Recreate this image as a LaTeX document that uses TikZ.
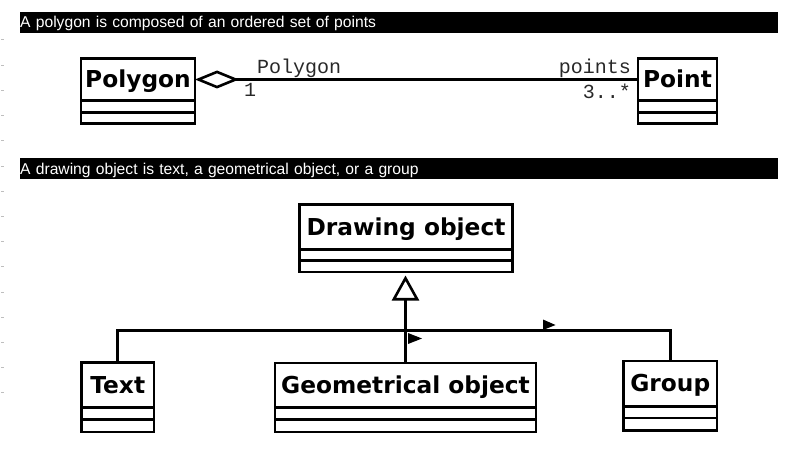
\documentclass[tikz,border=0pt]{standalone}
\usepackage{fontspec}
\setmainfont{Liberation Sans}
\newfontfamily\umlfont{DejaVu Sans}
\newfontfamily\lblfont{Liberation Mono}
\usetikzlibrary{arrows.meta}
\definecolor{lblgray}{RGB}{40,40,40}
\definecolor{tickgray}{RGB}{190,190,190}
\tikzset{
  umlline/.style={line width=2.6pt, draw=black},
  clsname/.style={draw=black, line width=2.6pt, fill=white, outer sep=0pt, inner sep=0pt,
    anchor=north west, font=\umlfont\bfseries\fontsize{23.3}{28}\selectfont,
    text height=16pt, text depth=0pt},
  clscomp/.style={draw=black, line width=2.6pt, fill=white, outer sep=0pt, inner sep=0pt,
    anchor=north, minimum height=#1},
  capbar/.style={fill=black, text=white, anchor=north west, inner sep=0pt,
    minimum height=21pt, text width=758pt, align=left,
    font=\fontsize{15.65}{19}\selectfont, text height=14pt, text depth=3.4pt},
  rolelbl/.style={font=\lblfont\fontsize{20}{24}\selectfont, text=lblgray, inner sep=0pt},
  marktick/.style={draw=tickgray, line width=1pt},
}
\begin{document}
\begin{tikzpicture}[x=1pt,y=-1pt]
\useasboundingbox (0,0) rectangle (788,452);
% faint margin ticks
\foreach \i in {0,...,14}
  \draw[marktick] (1,{40+25.2*\i}) -- (4,{40+25.2*\i});

% captions
\node[capbar] (cap1) at (20,11.5) {A polygon is composed of an ordered set of points};
\node[capbar] (cap2) at (20,158) {A drawing object is text, a geometrical object, or a group};

% ---- first diagram ----
\node[clsname, minimum width=114pt, minimum height=42pt] (poly) at (81,58.5) {Polygon};
\node[clscomp=12pt, minimum width=114pt] (polyA) at (poly.south) {};
\node[clscomp=11pt, minimum width=114pt] (polyB) at (polyA.south) {};

\node[clsname, minimum width=79pt, minimum height=42pt] (point) at (638,58.5) {Point};
\node[clscomp=12pt, minimum width=79pt] (pointA) at (point.south) {};
\node[clscomp=11pt, minimum width=79pt] (pointB) at (pointA.south) {};

\draw[umlline, {Diamond[open,length=44pt,width=18pt]}-] (poly.east) -- (point.west);

\node[rolelbl, anchor=base west] (lpoly) at (257,73.3) {Polygon};
\node[rolelbl, anchor=base west] (lone) at (244,96.7) {1};
\node[rolelbl, anchor=base east] (lpoints) at (631,73.3) {points};
\node[rolelbl, anchor=base east] (lmult) at (631,98.3) {3..*};

% ---- second diagram ----
\node[clsname, minimum width=213pt, minimum height=45pt] (drawobj) at (299.5,204.5) {Drawing object};
\node[clscomp=11pt, minimum width=213pt] (drawA) at (drawobj.south) {};
\node[clscomp=11.5pt, minimum width=213pt] (drawB) at (drawA.south) {};

\node[clsname, minimum width=72.5pt, minimum height=45pt] (text) at (81.5,362.5) {Text};
\node[clscomp=12pt, minimum width=72.5pt] (textA) at (text.south) {};
\node[clscomp=12.5pt, minimum width=72.5pt] (textB) at (textA.south) {};

\node[clsname, minimum width=261pt, minimum height=44.5pt] (geom) at (275,363) {Geometrical object};
\node[clscomp=12pt, minimum width=261pt] (geomA) at (geom.south) {};
\node[clscomp=12.5pt, minimum width=261pt] (geomB) at (geomA.south) {};

\node[clsname, minimum width=93.5pt, minimum height=45.5pt] (group) at (623.5,361) {Group};
\node[clscomp=11.5pt, minimum width=93.5pt] (groupA) at (group.south) {};
\node[clscomp=12.5pt, minimum width=93.5pt] (groupB) at (groupA.south) {};

\coordinate (bus) at (geom.north |- 0,330.5);
\draw[umlline, -{Triangle[open,length=25pt,width=27pt]}, shorten >=3.5pt]
  (geom.north) -- (geom.north |- drawB.south);
\draw[umlline] (text.north) |- (bus) -| (group.north);

% direction markers
\fill (543,319.5) -- (543,330) -- (555.5,325) -- cycle;
\fill (408,333) -- (408,344) -- (422,338.5) -- cycle;
\end{tikzpicture}
\end{document}
